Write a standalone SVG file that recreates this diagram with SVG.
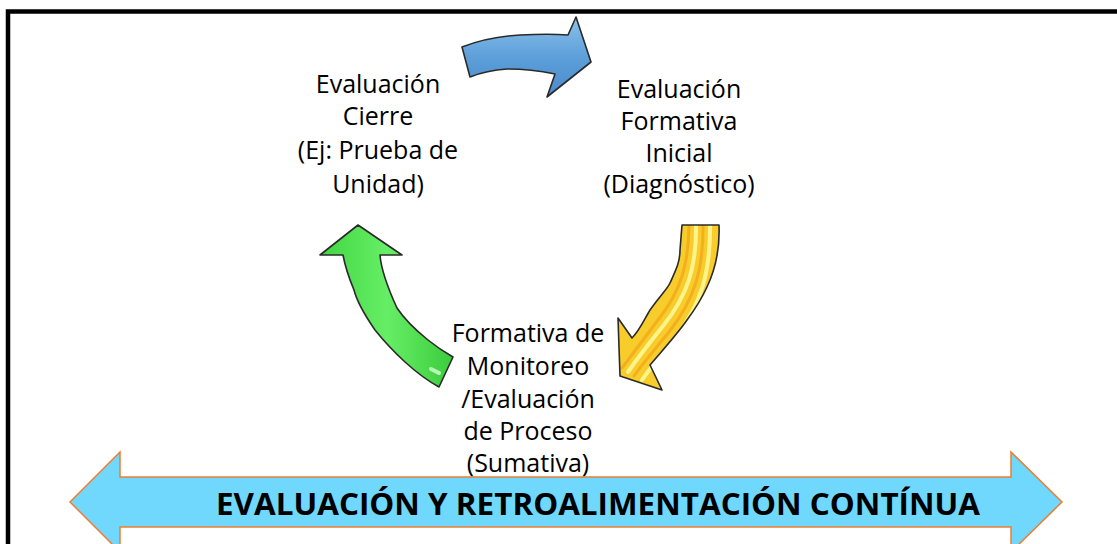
<svg xmlns="http://www.w3.org/2000/svg" width="1117" height="544" viewBox="0 0 1117 544">
  <style>
    .lbl { font-family: "Open Sans", "Liberation Sans", sans-serif; font-size: 25px; fill: #000; text-anchor: middle; }
    .banner { font-family: "Open Sans", "Liberation Sans", sans-serif; font-size: 31px; font-weight: bold; fill: #000; text-anchor: middle; }
    .cyc { stroke: #2a2a2a; stroke-width: 1.6; stroke-linejoin: round; }
    .stripe { fill: none; stroke-linecap: round; }
  </style>
  <defs>
    <linearGradient id="gBlue" x1="0" y1="0" x2="0" y2="1">
      <stop offset="0" stop-color="#8cc2ec"/>
      <stop offset="0.5" stop-color="#5d9fd9"/>
      <stop offset="1" stop-color="#4a8acb"/>
    </linearGradient>
    <linearGradient id="gGreen" x1="0" y1="0" x2="1" y2="0">
      <stop offset="0" stop-color="#40d640"/>
      <stop offset="0.5" stop-color="#66ee66"/>
      <stop offset="1" stop-color="#3ccc3c"/>
    </linearGradient>
    <clipPath id="clipYellow">
      <path d="M682,225 L719,225 C720,250 716,268 707,287 C700,302 693,312 687,320 C678,333 668,344 650,365 L662,390 L620,376 L618,318 L632,338 C640,330 645,318 650,310 C660,296 668,288 670,283 C676,270 680,262 680,250 Z"/>
    </clipPath>
  </defs>

  <rect x="8" y="11.5" width="1200" height="600" fill="#fff" stroke="#000" stroke-width="4.5"/>

  <g id="connectors">
    <!-- blue arrow (top) -->
    <path class="cyc" fill="url(#gBlue)" d="M462,47 C480,40 500,36 520,35 C540,34 555,34 568,35 L576,17 L591,62 L547,97 L555,74 C540,71 525,69 507,69 C492,70 480,73 470,77 Z"/>
    <!-- yellow arrow (right, pointing down-left) -->
    <path fill="#f8cc2a" d="M682,225 L719,225 C720,250 716,268 707,287 C700,302 693,312 687,320 C678,333 668,344 650,365 L662,390 L620,376 L618,318 L632,338 C640,330 645,318 650,310 C660,296 668,288 670,283 C676,270 680,262 680,250 Z"/>
    <g clip-path="url(#clipYellow)">
      <path class="stripe" d="M689,222 C689,266 680,292 658,320 C646,336 634,352 622,368" stroke="#f3a81a" stroke-width="3" opacity="0.8"/>
      <path class="stripe" d="M696,222 C697,268 687,296 663,326 C650,342 639,356 628,372" stroke="#fff48c" stroke-width="4"/>
      <path class="stripe" d="M703,222 C704,270 694,300 669,332 C656,348 644,362 634,376" stroke="#f3a81a" stroke-width="3" opacity="0.8"/>
      <path class="stripe" d="M710,222 C711,274 700,306 675,338 C662,354 650,368 642,380" stroke="#fff48c" stroke-width="4"/>
    </g>
    <path class="cyc" fill="none" d="M682,225 L719,225 C720,250 716,268 707,287 C700,302 693,312 687,320 C678,333 668,344 650,365 L662,390 L620,376 L618,318 L632,338 C640,330 645,318 650,310 C660,296 668,288 670,283 C676,270 680,262 680,250 Z"/>
    <!-- green arrow (left, pointing up) -->
    <path class="cyc" fill="url(#gGreen)" d="M358,225 L402,255 L380,255 C381,268 386,284 397,308 C405,320 418,332 428,340 C438,348 446,353 453,357 L439,387 C428,381 416,372 405,362 C392,350 383,340 375,330 C364,314 357,302 354,290 C349,278 345,266 343,255 L320,255 Z"/>
    <path d="M431,369 L439,373" stroke="#b8f5b8" stroke-width="4" stroke-linecap="round"/>
  </g>

  <g id="node-cierre">
    <text class="lbl" x="378" y="92.5">Evaluación</text>
    <text class="lbl" x="378" y="125">Cierre</text>
    <text class="lbl" x="378" y="159">(Ej: Prueba de</text>
    <text class="lbl" x="378" y="193">Unidad)</text>
  </g>

  <g id="node-inicial">
    <text class="lbl" x="679" y="98">Evaluación</text>
    <text class="lbl" x="679" y="130">Formativa</text>
    <text class="lbl" x="679" y="162">Inicial</text>
    <text class="lbl" x="679" y="193">(Diagnóstico)</text>
  </g>

  <g id="node-proceso">
    <text class="lbl" x="528" y="342">Formativa de</text>
    <text class="lbl" x="528" y="375">Monitoreo</text>
    <text class="lbl" x="528" y="408">/Evaluación</text>
    <text class="lbl" x="528" y="440">de Proceso</text>
    <text class="lbl" x="528" y="472">(Sumativa)</text>
  </g>

  <g id="node-banner">
    <path d="M70,502 L120,452 L120,477 L1011,477 L1011,452 L1062,502 L1011,552 L1011,527 L120,527 L120,552 Z" fill="#6fd8fc" stroke="#ed7d31" stroke-width="1.5"/>
    <text class="banner" x="598" y="515" textLength="764" lengthAdjust="spacingAndGlyphs">EVALUACIÓN Y RETROALIMENTACIÓN CONTÍNUA</text>
  </g>
</svg>
